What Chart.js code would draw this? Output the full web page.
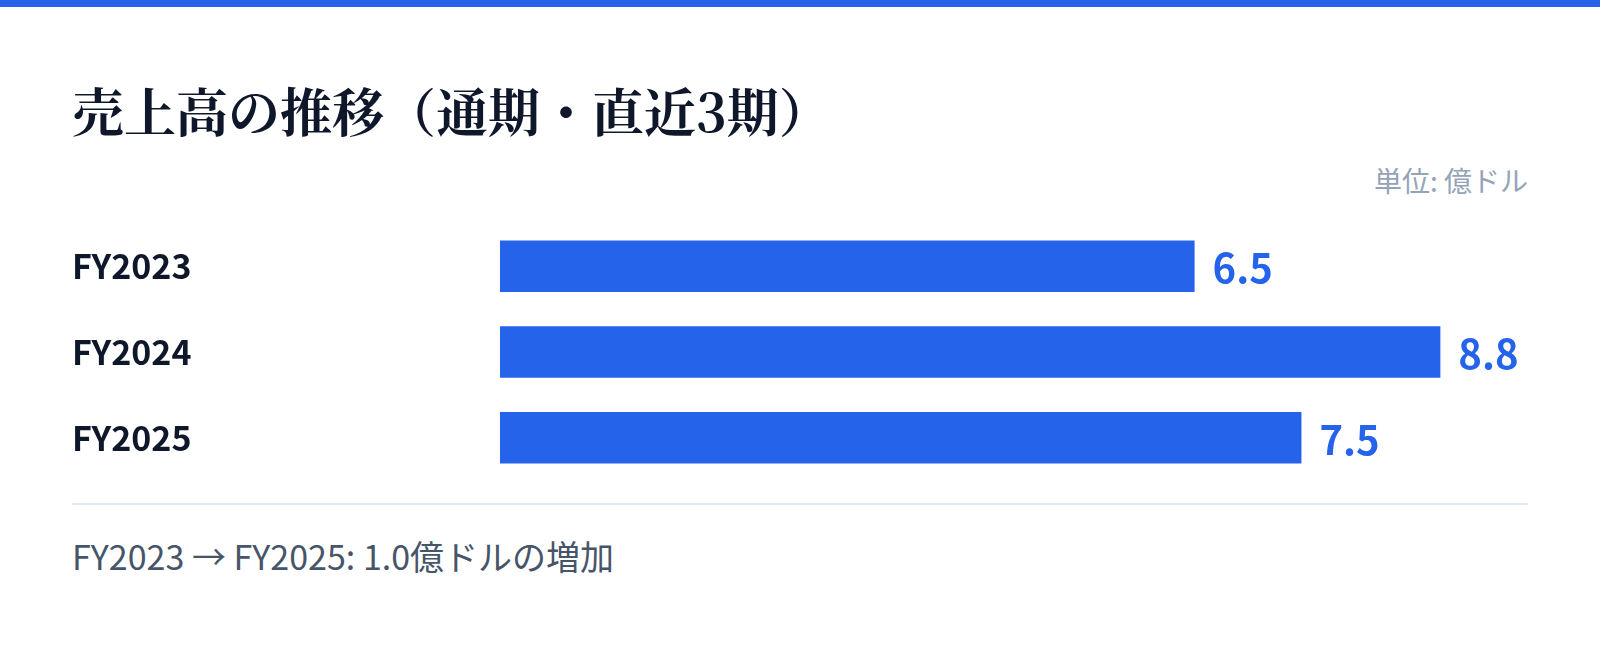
<!DOCTYPE html>
<html lang="ja">
<head>
<meta charset="utf-8">
<script src="https://cdn.jsdelivr.net/npm/chart.js@4"></script>
<style>
  html, body { margin: 0; padding: 0; background: #ffffff; }
  body { width: 1600px; height: 647px; position: relative; overflow: hidden;
         font-family: "Noto Sans CJK JP", "Noto Sans", sans-serif; }
  .topbar { position: absolute; left: 0; top: 0; width: 1600px; height: 7px; background: #2563EB; }
  .title { position: absolute; left: 72px; top: 84px; margin: 0; font-size: 52px; line-height: 1;
           font-weight: 700; color: #0F172A; white-space: nowrap;
           font-family: "Noto Serif CJK JP", "Noto Sans CJK JP", serif; }
  .unit { position: absolute; right: 72px; top: 166px; font-size: 28px; line-height: 1; color: #94A3B8; white-space: nowrap; }
  .chartbox { position: absolute; left: 72px; top: 203px; width: 1456px; height: 298px; }
  .rule { position: absolute; left: 72px; top: 503px; width: 1456px; height: 2px; background: #E2E8F0; }
  .note { position: absolute; left: 72px; top: 539px; font-size: 34px; line-height: 1; color: #475569; white-space: nowrap; }
</style>
</head>
<body>
<div class="topbar"></div>
<h1 class="title">売上高の推移（通期・直近3期）</h1>
<div class="unit">単位: 億ドル</div>
<div class="chartbox"><canvas id="c"></canvas></div>
<div class="rule"></div>
<div class="note" id="note"></div>
<script>
const categories = ["FY2023", "FY2024", "FY2025"];
const salesValues = [6.5, 8.8, 7.5];
const unitLabel = "億ドル";

const first = salesValues[0], last = salesValues[salesValues.length - 1];
document.getElementById('note').textContent =
  categories[0] + " → " + categories[categories.length - 1] + ": " + (last - first).toFixed(1) + unitLabel + "の増加";

const valueLabels = {
  id: 'valueLabels',
  afterDatasetsDraw(chart) {
    const ctx = chart.ctx;
    const meta = chart.getDatasetMeta(0);
    ctx.save();
    ctx.font = '700 40px "Noto Sans CJK JP", sans-serif';
    ctx.fillStyle = '#2563EB';
    ctx.textAlign = 'left';
    ctx.textBaseline = 'middle';
    meta.data.forEach((bar, i) => {
      ctx.fillText(chart.data.datasets[0].data[i].toFixed(1), bar.x + 18, bar.y + 2);
    });
    ctx.restore();
  }
};

new Chart(document.getElementById('c'), {
  type: 'bar',
  data: {
    labels: categories,
    datasets: [{
      data: salesValues,
      backgroundColor: '#2563EB',
      borderWidth: 0,
      barPercentage: 0.6,
      categoryPercentage: 1.0
    }]
  },
  options: {
    indexAxis: 'y',
    responsive: true,
    maintainAspectRatio: false,
    animation: false,
    layout: { padding: 0 },
    plugins: { legend: { display: false }, tooltip: { enabled: false } },
    scales: {
      x: { display: false, min: 0, max: 9.62 },
      y: {
        grid: { display: false },
        border: { display: false },
        afterFit(scale) { scale.width = 428; },
        ticks: {
          crossAlign: 'far',
          padding: 0,
          color: '#0F172A',
          font: { family: '"Noto Sans CJK JP", sans-serif', size: 34, weight: '700' }
        }
      }
    }
  },
  plugins: [valueLabels]
});
</script>
</body>
</html>
